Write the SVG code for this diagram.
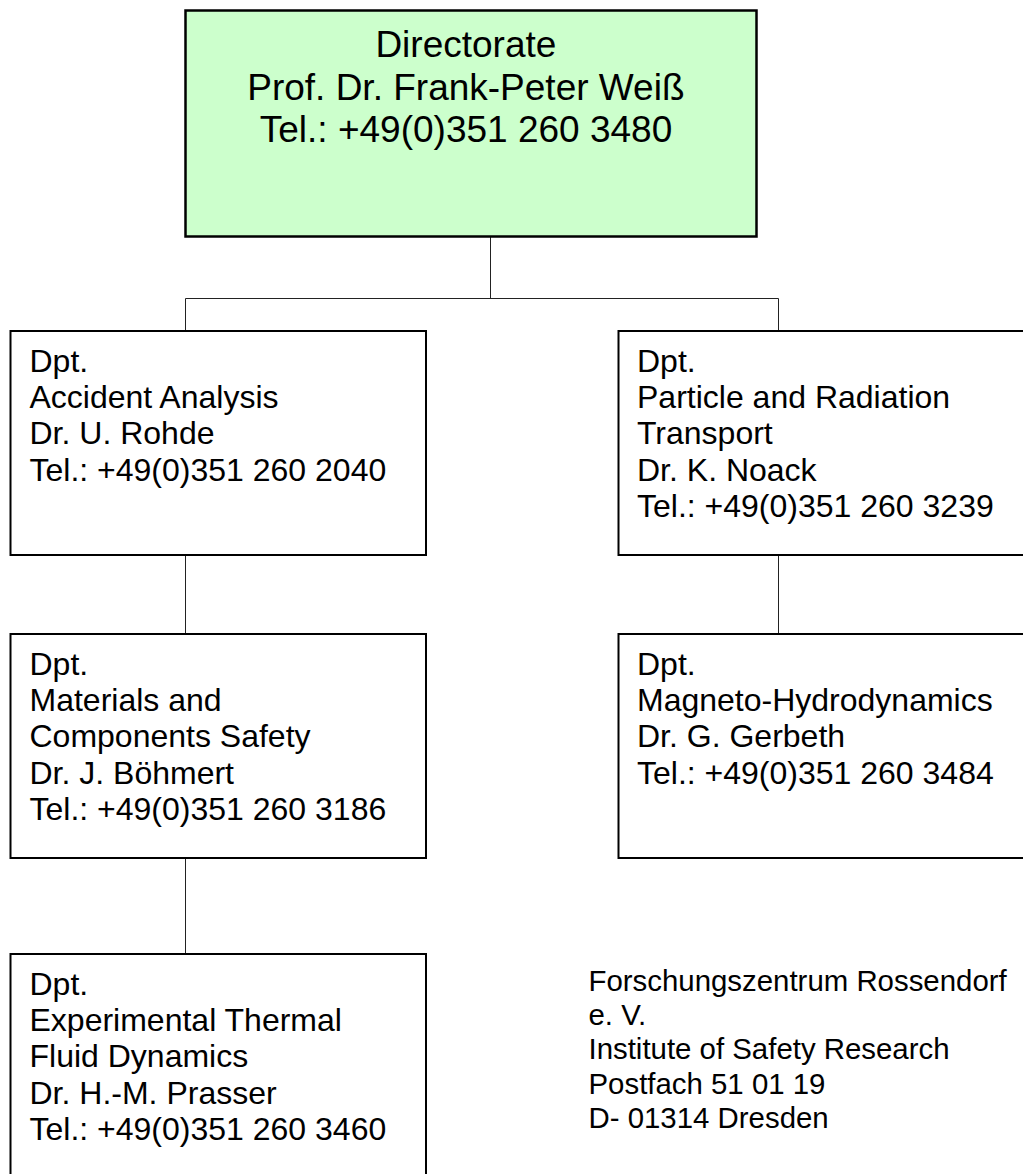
<svg xmlns="http://www.w3.org/2000/svg" width="1023" height="1174" viewBox="0 0 1023 1174">
  <style>
    .box { fill: #ffffff; stroke: #000000; stroke-width: 2; }
    .head { fill: #ccffcc; stroke: #000000; stroke-width: 2.5; }
    .link { fill: none; stroke: #222222; stroke-width: 1; }
    text { font-family: "Liberation Sans", Arial, sans-serif; fill: #000000; }
    .t-head { font-size: 37px; text-anchor: middle; }
    .t-dpt { font-size: 32px; }
    .t-addr { font-size: 29.4px; }
  </style>
  <rect width="1023" height="1174" fill="#ffffff"/>

  <!-- connectors -->
  <g id="connectors">
    <path class="link" d="M490.5 237 V298.5"/>
    <path class="link" d="M185.5 331 V298.5 H778.5 V331"/>
    <path class="link" d="M185.5 555 V634"/>
    <path class="link" d="M778.5 555 V634"/>
    <path class="link" d="M185.5 858 V954"/>
  </g>

  <!-- directorate -->
  <g id="directorate">
    <rect class="head" x="185.5" y="10.5" width="571" height="226"/>
    <text class="t-head">
      <tspan x="471" y="57">Directorate</tspan>
      <tspan x="471" y="99.5">Prof. Dr. Frank-Peter Weiß</tspan>
      <tspan x="466" y="142">Tel.: +49(0)351 260 3480</tspan>
    </text>
  </g>

  <!-- department: accident analysis -->
  <g id="dpt-accident-analysis">
    <rect class="box" x="10.5" y="331" width="415.5" height="224"/>
    <text class="t-dpt">
      <tspan x="29.5" y="371.7">Dpt.</tspan>
      <tspan x="29.5" y="408">Accident Analysis</tspan>
      <tspan x="29.5" y="444.3">Dr. U. Rohde</tspan>
      <tspan x="29.5" y="480.6">Tel.: +49(0)351 260 2040</tspan>
    </text>
  </g>

  <!-- department: particle and radiation transport -->
  <g id="dpt-particle-radiation">
    <rect class="box" x="618.5" y="331" width="420" height="224"/>
    <text class="t-dpt">
      <tspan x="637" y="371.7">Dpt.</tspan>
      <tspan x="637" y="408">Particle and Radiation</tspan>
      <tspan x="637" y="444.3">Transport</tspan>
      <tspan x="637" y="480.6">Dr. K. Noack</tspan>
      <tspan x="637" y="517">Tel.: +49(0)351 260 3239</tspan>
    </text>
  </g>

  <!-- department: materials and components safety -->
  <g id="dpt-materials">
    <rect class="box" x="10.5" y="634" width="415.5" height="224"/>
    <text class="t-dpt">
      <tspan x="29.5" y="674.7">Dpt.</tspan>
      <tspan x="29.5" y="711">Materials and</tspan>
      <tspan x="29.5" y="747.3">Components Safety</tspan>
      <tspan x="29.5" y="783.6">Dr. J. Böhmert</tspan>
      <tspan x="29.5" y="820">Tel.: +49(0)351 260 3186</tspan>
    </text>
  </g>

  <!-- department: magneto-hydrodynamics -->
  <g id="dpt-mhd">
    <rect class="box" x="618.5" y="634" width="420" height="224"/>
    <text class="t-dpt">
      <tspan x="637" y="674.7">Dpt.</tspan>
      <tspan x="637" y="711">Magneto-Hydrodynamics</tspan>
      <tspan x="637" y="747.3">Dr. G. Gerbeth</tspan>
      <tspan x="637" y="783.6">Tel.: +49(0)351 260 3484</tspan>
    </text>
  </g>

  <!-- department: experimental thermal fluid dynamics -->
  <g id="dpt-thermal-fluid">
    <rect class="box" x="10.5" y="954" width="415.5" height="240"/>
    <text class="t-dpt">
      <tspan x="29.5" y="994.7">Dpt.</tspan>
      <tspan x="29.5" y="1031">Experimental Thermal</tspan>
      <tspan x="29.5" y="1067.3">Fluid Dynamics</tspan>
      <tspan x="29.5" y="1103.6">Dr. H.-M. Prasser</tspan>
      <tspan x="29.5" y="1140">Tel.: +49(0)351 260 3460</tspan>
    </text>
  </g>

  <!-- institute address -->
  <g id="address">
    <text class="t-addr">
      <tspan x="588.5" y="990.8">Forschungszentrum Rossendorf</tspan>
      <tspan x="588.5" y="1025">e. V.</tspan>
      <tspan x="588.5" y="1059.3">Institute of Safety Research</tspan>
      <tspan x="588.5" y="1093.5">Postfach 51 01 19</tspan>
      <tspan x="588.5" y="1127.7">D- 01314 Dresden</tspan>
    </text>
  </g>
</svg>
